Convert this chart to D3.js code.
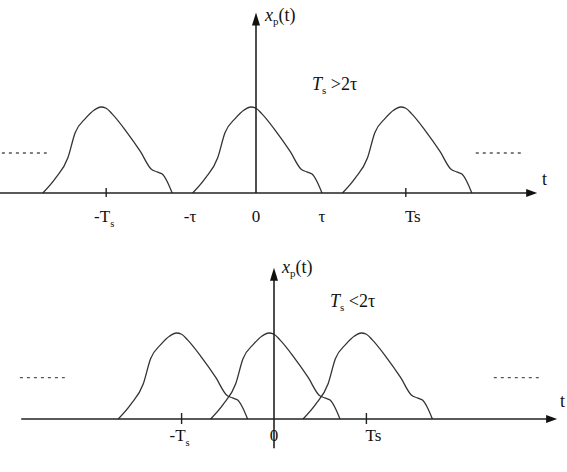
<!DOCTYPE html>
<html>
<head>
<meta charset="utf-8">
<script src="https://cdn.jsdelivr.net/npm/d3@7"></script>
<style>
  body { margin: 0; background: #fff; }
</style>
</head>
<body>
<svg id="chart" width="567" height="472"></svg>
<script>
// data
// one pulse: t in units of tau (pulse centre = 0), height normalised to the peak
const pulseT = [-0.96, -0.77, -0.58, -0.47, -0.31, -0.18, -0.08, 0.0, 0.09, 0.30, 0.52, 0.68, 0.77, 0.85, 0.92, 1.0];
const pulseX = [0, 0.17, 0.41, 0.70, 0.87, 0.965, 1.0, 0.985, 0.92, 0.72, 0.48, 0.28, 0.245, 0.22, 0.14, 0];

// sampling period Ts (in tau) for the two panels
const periods = [2.27, 1.40];
const relations = ['>2τ', '<2τ'];
// copies of the pulse, in multiples of Ts
const shifts = [-1, 0, 1];

// tick labels: text, subscript, position in tau or Ts
const topLabels = ['-T', '-τ', '0', 'τ', 'Ts'];
const topSubs = ['s', '', '', '', ''];
const topPos = [-periods[0], -1, 0, 1, periods[0]];
const botLabels = ['-T', '0', 'Ts'];
const botSubs = ['s', '', ''];
const botPos = [-periods[1], 0, periods[1]];

// "..." continuation marks (t from, t to) and their level
const dotsT = [[-3.85, -3.17], [3.33, 4.03]];
const dotsLevel = [0.465, 0.48];

// axis extents in data units
const tAxis = [[-3.88, 4.26], [-3.83, 4.29]];
const xAxis = [[0, 2.10], [-0.34, 1.76]];

// layout
const TAU_PX = 66;
const PEAK_PX = 86;
const layout = [
  { x0: 256, y0: 193, labelDy: 29, tick: [-5, 4], xLab: [265, 21], cond: [312, 90], tLab: [542, 185] },
  { x0: 274, y0: 419, labelDy: 22, tick: [-6, 5], xLab: [282, 273], cond: [330, 307], tLab: [560, 407] }
];

const svg = d3.select('#chart');
const FONT = "'Liberation Serif', 'Times New Roman', serif";

function subText(g, x, y, base, sub, size, italic) {
  const t = g.append('text')
    .attr('x', x)
    .attr('y', y)
    .style('font-family', FONT)
    .style('fill', '#111')
    .style('font-size', size + 'px');
  t.append('tspan').text(base).style('font-style', italic ? 'italic' : 'normal');
  if (sub) {
    t.append('tspan').text(sub)
      .attr('dy', size * 0.28)
      .style('font-size', (size * 0.62) + 'px');
  }
  return t;
}

layout.forEach((L, p) => {
  const Ts = periods[p];
  const g = svg.append('g').attr('class', 'panel' + p);

  const scaleT = d3.scaleLinear().domain([0, 1]).range([L.x0, L.x0 + TAU_PX]);
  const scaleX = d3.scaleLinear().domain([0, 1]).range([L.y0, L.y0 - PEAK_PX]);

  // pulses
  const line = d3.line()
    .x(d => scaleT(d[0]))
    .y(d => scaleX(d[1]))
    .curve(d3.curveMonotoneX);

  g.selectAll('path.pulse')
    .data(shifts)
    .join('path')
    .attr('class', 'pulse')
    .attr('d', k => line(pulseT.map((t, i) => [t + k * Ts, pulseX[i]])))
    .style('fill', 'none')
    .style('stroke', '#333')
    .style('stroke-width', 1.3);

  // continuation dots
  g.selectAll('line.dots')
    .data(dotsT)
    .join('line')
    .attr('class', 'dots')
    .attr('x1', d => scaleT(d[0]))
    .attr('x2', d => scaleT(d[1]))
    .attr('y1', scaleX(dotsLevel[p]))
    .attr('y2', scaleX(dotsLevel[p]))
    .style('stroke', '#555')
    .style('stroke-width', 1.3)
    .style('stroke-dasharray', '3,4');

  // t axis
  const tEnd = scaleT(tAxis[p][1]);
  g.append('line')
    .attr('x1', scaleT(tAxis[p][0]))
    .attr('x2', tEnd - 4)
    .attr('y1', L.y0)
    .attr('y2', L.y0)
    .style('stroke', '#222')
    .style('stroke-width', 1.6);
  g.append('path')
    .attr('d', `M${tEnd},${L.y0}L${tEnd - 11},${L.y0 - 4}L${tEnd - 11},${L.y0 + 4}Z`)
    .style('fill', '#111');

  // x axis
  const xTop = scaleX(xAxis[p][1]);
  g.append('line')
    .attr('x1', L.x0)
    .attr('x2', L.x0)
    .attr('y1', scaleX(xAxis[p][0]))
    .attr('y2', xTop + 4)
    .style('stroke', '#222')
    .style('stroke-width', 1.6);
  g.append('path')
    .attr('d', `M${L.x0},${xTop}L${L.x0 - 4},${xTop + 13}L${L.x0 + 4},${xTop + 13}Z`)
    .style('fill', '#111');

  // ticks at +-Ts
  g.selectAll('line.tick')
    .data([-Ts, Ts])
    .join('line')
    .attr('class', 'tick')
    .attr('x1', d => scaleT(d))
    .attr('x2', d => scaleT(d))
    .attr('y1', L.y0 + L.tick[0])
    .attr('y2', L.y0 + L.tick[1])
    .style('stroke', '#222')
    .style('stroke-width', 1.4);

  // tick labels
  const labels = p === 0 ? topLabels : botLabels;
  const subs = p === 0 ? topSubs : botSubs;
  const pos = p === 0 ? topPos : botPos;
  labels.forEach((lab, i) => {
    const nudge = lab === 'Ts' ? 7 : (subs[i] ? -2 : 0);
    subText(g, scaleT(pos[i]) + nudge, L.y0 + L.labelDy, lab, subs[i], 17, false)
      .style('text-anchor', 'middle');
  });

  // x_p(t)
  const xl = g.append('text')
    .attr('x', L.xLab[0])
    .attr('y', L.xLab[1])
    .style('font-family', FONT)
    .style('fill', '#111')
    .style('font-size', '18px');
  xl.append('tspan').text('x').style('font-style', 'italic');
  xl.append('tspan').text('p').attr('dy', 4).style('font-size', '11px');
  xl.append('tspan').text('(t)').attr('dy', -4);

  // T_s >2tau
  const c = g.append('text')
    .attr('x', L.cond[0])
    .attr('y', L.cond[1])
    .style('font-family', FONT)
    .style('fill', '#111')
    .style('font-size', '18px');
  c.append('tspan').text('T').style('font-style', 'italic');
  c.append('tspan').text('s').attr('dy', 4).style('font-size', '11px');
  c.append('tspan').text(' ' + relations[p]).attr('dy', -4);

  // t
  g.append('text')
    .attr('x', L.tLab[0])
    .attr('y', L.tLab[1])
    .style('font-family', FONT)
    .style('fill', '#111')
    .style('font-size', '18px')
    .text('t');
});
</script>
</body>
</html>
